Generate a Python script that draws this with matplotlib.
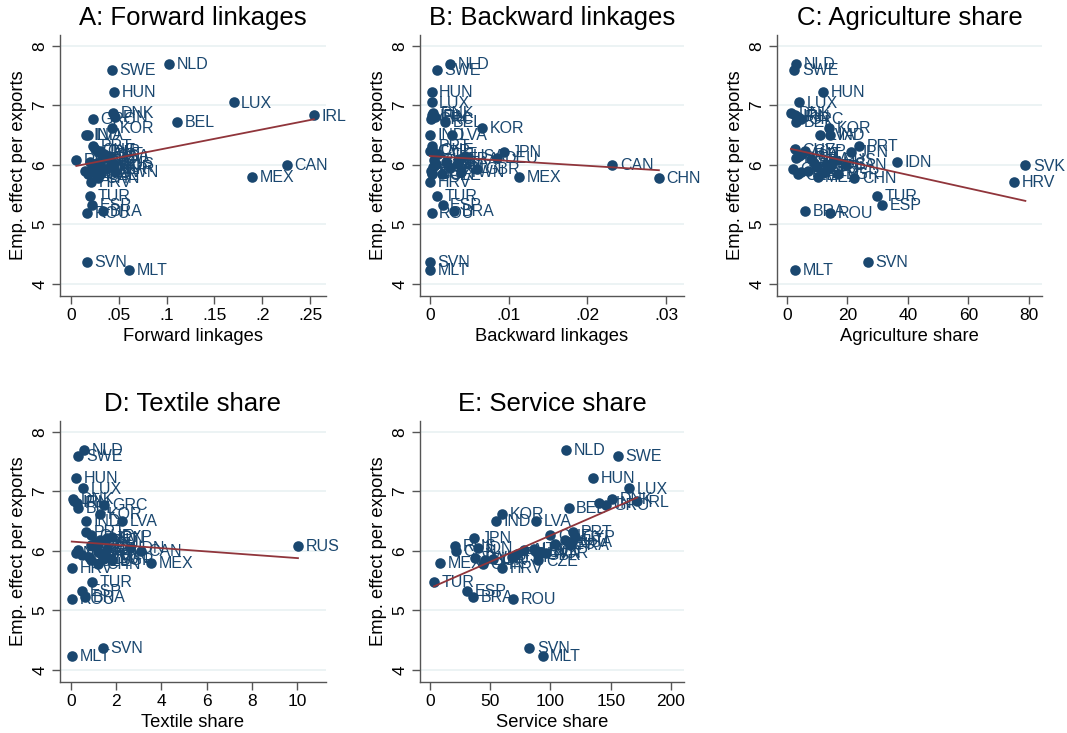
import numpy as np
import matplotlib
matplotlib.use("Agg")
import matplotlib.pyplot as plt

plt.rcParams['font.family'] = ['Liberation Sans', 'DejaVu Sans']

countries = ["NLD", "SWE", "HUN", "LUX", "DNK", "IRL", "FIN", "GRC", "BEL", "KOR",
             "IND", "LVA", "PRT", "CHE", "CYP", "JPN", "AUT", "USA", "DEU", "FRA",
             "RUS", "IDN", "ITA", "AUS", "CAN", "SVK", "NOR", "POL", "GBR", "EST",
             "TWN", "LTU", "BGR", "CZE", "MEX", "CHN", "HRV", "TUR", "ESP", "BRA",
             "ROU", "SVN", "MLT"]
emp_effect = [7.70, 7.60, 7.23, 7.05, 6.87, 6.83, 6.80, 6.77, 6.72, 6.62,
              6.51, 6.50, 6.32, 6.26, 6.24, 6.22, 6.18, 6.15, 6.12, 6.10,
              6.08, 6.05, 6.04, 6.02, 6.00, 5.99, 5.97, 5.95, 5.93, 5.90,
              5.88, 5.87, 5.85, 5.84, 5.80, 5.78, 5.72, 5.48, 5.33, 5.23,
              5.19, 4.37, 4.24]
forward_linkages = [0.103, 0.043, 0.045, 0.170, 0.044, 0.254, 0.046, 0.023, 0.111, 0.043,
                    0.016, 0.018, 0.023, 0.025, 0.030, 0.028, 0.035, 0.040, 0.038, 0.032,
                    0.0056, 0.020, 0.027, 0.045, 0.226, 0.030, 0.042, 0.022, 0.036, 0.015,
                    0.046, 0.025, 0.018, 0.030, 0.189, 0.028, 0.021, 0.020, 0.022, 0.033,
                    0.0165, 0.0165, 0.061]
backward_linkages = [0.0026, 0.0009, 0.0002, 0.0002, 0.0004, 0.0003, 0.0007, 0.0001, 0.0019, 0.0066,
                     0.0000, 0.0028, 0.0002, 0.0003, 0.0000, 0.0094, 0.0010, 0.0045, 0.0085, 0.0038,
                     0.0005, 0.0020, 0.0035, 0.0008, 0.0232, 0.0006, 0.0004, 0.0025, 0.0060, 0.0001,
                     0.0040, 0.0002, 0.0003, 0.0015, 0.0113, 0.0291, 0.0000, 0.0009, 0.0016, 0.0031,
                     0.0002, 0.0000, 0.0000]
agriculture_share = [3.0, 2.4, 11.8, 4.1, 1.3, 2.5, 3.5, 4.6, 3.0, 14.0,
                     14.3, 11.0, 23.7, 2.5, 6.0, 21.2, 5.0, 4.0, 3.0, 8.0,
                     16.0, 36.4, 9.0, 13.0, 19.5, 78.8, 10.0, 14.0, 2.0, 7.0,
                     4.5, 12.0, 17.0, 3.5, 10.1, 22.2, 75.1, 29.8, 31.3, 6.1,
                     14.3, 26.7, 2.6]
textile_share = [0.57, 0.32, 0.21, 0.54, 0.10, 0.15, 0.25, 1.47, 0.30, 1.28,
                 0.65, 2.26, 0.65, 0.90, 1.80, 1.60, 1.30, 1.10, 1.20, 0.90,
                 10.04, 2.60, 1.60, 0.30, 3.09, 1.20, 0.20, 1.40, 0.50, 0.80,
                 1.50, 1.40, 1.80, 0.90, 3.52, 1.20, 0.03, 0.94, 0.47, 0.62,
                 0.03, 1.40, 0.03]
service_share = [113, 156, 135, 165, 151, 172, 140, 146, 115, 60,
                 55, 88, 119, 100, 120, 36.5, 112, 118, 104, 116,
                 20.7, 40, 86, 78, 21.5, 92, 96, 72, 90, 68,
                 37, 52, 46, 90, 8.3, 44, 60, 3.3, 31, 35.4,
                 68.6, 82.3, 93.4]

y_ticks = [4, 5, 6, 7, 8]

panels = [
    dict(title="A: Forward linkages", xlabel="Forward linkages", x=forward_linkages,
         ticks=[0, .05, .1, .15, .2, .25], labels=["0", ".05", ".1", ".15", ".2", ".25"],
         xlim=(-0.0115, 0.2667), box=(60, 35, 326, 296)),
    dict(title="B: Backward linkages", xlabel="Backward linkages", x=backward_linkages,
         ticks=[0, .01, .02, .03], labels=["0", ".01", ".02", ".03"],
         xlim=(-0.00127, 0.03229), box=(420, 35, 684, 296)),
    dict(title="C: Agriculture share", xlabel="Agriculture share", x=agriculture_share,
         ticks=[0, 20, 40, 60, 80], labels=["0", "20", "40", "60", "80"],
         xlim=(-3.3, 84.3), box=(777, 35, 1042, 296)),
    dict(title="D: Textile share", xlabel="Textile share", x=textile_share,
         ticks=[0, 2, 4, 6, 8, 10], labels=["0", "2", "4", "6", "8", "10"],
         xlim=(-0.49, 11.28), box=(60, 421, 326, 682)),
    dict(title="E: Service share", xlabel="Service share", x=service_share,
         ticks=[0, 50, 100, 150, 200], labels=["0", "50", "100", "150", "200"],
         xlim=(-8.3, 210.8), box=(420, 421, 684, 682)),
]

W, H = 1067, 733
fig = plt.figure(figsize=(W / 100, H / 100), dpi=100)
fig.patch.set_facecolor("white")

navy = "#1a476f"
maroon = "#90353b"
grid_c = "#eaf2f3"
axis_c = "#555555"

y = np.array(emp_effect)
for p in panels:
    l, t, r, b = p["box"]
    ax = fig.add_axes([l / W, 1 - b / H, (r - l) / W, (b - t) / H])
    x = np.array(p["x"], dtype=float)
    ax.set_xlim(*p["xlim"])
    ax.set_ylim(3.80, 8.18)
    for yt in y_ticks:
        ax.axhline(yt, color=grid_c, lw=1.3, zorder=0)
    ax.scatter(x, y, s=58, color=navy, zorder=3, linewidths=0)
    for xi, yi, c in zip(x, y, countries):
        ax.annotate(c, (xi, yi), xytext=(5.5, -0.5), textcoords="offset points",
                    ha="left", va="center", fontsize=11.5, color=navy,
                    annotation_clip=False, zorder=4)
    slope, icept = np.polyfit(x, y, 1)
    xs = np.array([x.min(), x.max()])
    ax.plot(xs, icept + slope * xs, color=maroon, lw=1.3, zorder=5)
    ax.set_xticks(p["ticks"])
    ax.set_xticklabels(p["labels"])
    ax.set_yticks(y_ticks)
    ax.set_yticklabels([str(v) for v in y_ticks], rotation=90, va="center")
    ax.tick_params(axis="both", direction="out", length=6, width=1, color=axis_c,
                   labelsize=12.5, labelcolor="black", pad=3)
    for s in ["top", "right"]:
        ax.spines[s].set_visible(False)
    for s in ["left", "bottom"]:
        ax.spines[s].set_color(axis_c)
        ax.spines[s].set_linewidth(1.0)
    ax.set_facecolor("white")
    ax.set_title(p["title"], fontsize=18.5, pad=7)
    ax.set_xlabel(p["xlabel"], fontsize=13.2, labelpad=3)
    ax.set_ylabel("Emp. effect per exports", fontsize=13.2, labelpad=4)

fig.savefig("out.png", dpi=100, facecolor="white")
